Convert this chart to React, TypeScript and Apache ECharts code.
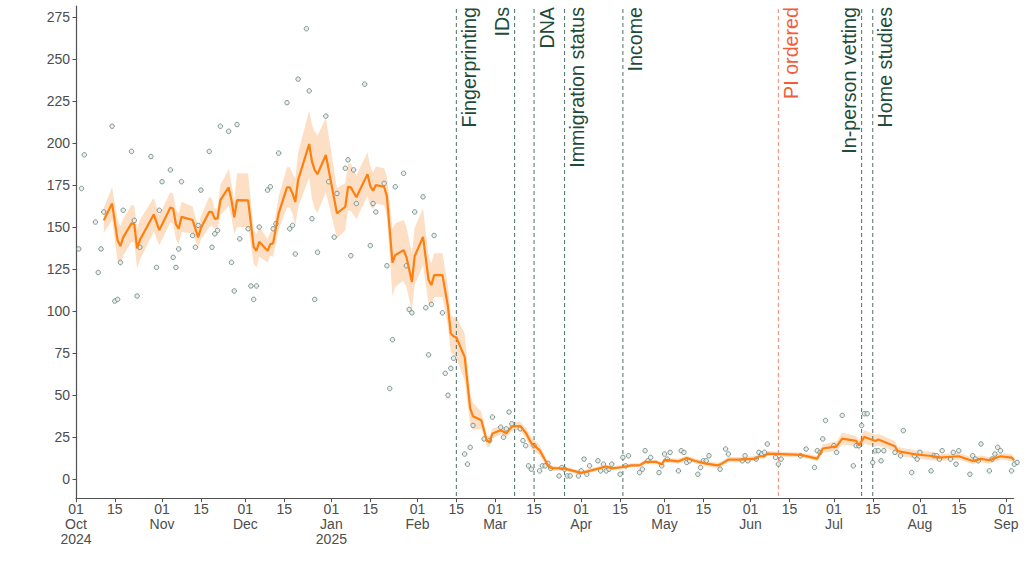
import React, { useEffect, useRef } from "react";
import * as echarts from "echarts";

// ---------- data ----------
const pointDates: string[] = [
  "2024-10-02","2024-10-03","2024-10-04","2024-10-08","2024-10-09","2024-10-10","2024-10-11","2024-10-14","2024-10-15","2024-10-16","2024-10-17","2024-10-18","2024-10-21","2024-10-22","2024-10-23","2024-10-24","2024-10-28","2024-10-30","2024-10-31",
  "2024-11-01","2024-11-04","2024-11-05","2024-11-06","2024-11-07","2024-11-08","2024-11-12","2024-11-13","2024-11-14","2024-11-15","2024-11-18","2024-11-19","2024-11-20","2024-11-21","2024-11-22","2024-11-25","2024-11-26","2024-11-27","2024-11-28","2024-11-29",
  "2024-12-02","2024-12-03","2024-12-04","2024-12-05","2024-12-06","2024-12-09","2024-12-10","2024-12-11","2024-12-12","2024-12-13","2024-12-16","2024-12-17","2024-12-18","2024-12-19","2024-12-20","2024-12-23","2024-12-24","2024-12-25","2024-12-26","2024-12-27","2024-12-30","2024-12-31",
  "2025-01-02","2025-01-03","2025-01-06","2025-01-07","2025-01-08","2025-01-09","2025-01-10","2025-01-13","2025-01-15","2025-01-16","2025-01-17","2025-01-20","2025-01-21","2025-01-22","2025-01-23","2025-01-24","2025-01-27","2025-01-28","2025-01-29","2025-01-30","2025-01-31",
  "2025-02-03","2025-02-04","2025-02-05","2025-02-06","2025-02-07","2025-02-10","2025-02-11","2025-02-12","2025-02-13","2025-02-14","2025-02-18","2025-02-19","2025-02-20","2025-02-21","2025-02-25","2025-02-27","2025-02-28",
  "2025-03-03","2025-03-04","2025-03-05","2025-03-06","2025-03-07","2025-03-10","2025-03-11","2025-03-12","2025-03-13","2025-03-14","2025-03-15","2025-03-17","2025-03-18","2025-03-19","2025-03-20","2025-03-21","2025-03-24","2025-03-25","2025-03-26","2025-03-27","2025-03-28","2025-03-31",
  "2025-04-01","2025-04-02","2025-04-03","2025-04-04","2025-04-07","2025-04-08","2025-04-09","2025-04-10","2025-04-11","2025-04-12","2025-04-15","2025-04-16","2025-04-17","2025-04-18","2025-04-22","2025-04-23","2025-04-24","2025-04-25","2025-04-26","2025-04-29","2025-04-30",
  "2025-05-01","2025-05-02","2025-05-03","2025-05-06","2025-05-07","2025-05-08","2025-05-09","2025-05-10","2025-05-13","2025-05-14","2025-05-15","2025-05-16","2025-05-17","2025-05-21","2025-05-23","2025-05-24","2025-05-29","2025-05-30","2025-05-31",
  "2025-06-03","2025-06-04","2025-06-05","2025-06-06","2025-06-07","2025-06-10","2025-06-11","2025-06-12","2025-06-19","2025-06-21","2025-06-24","2025-06-25","2025-06-26","2025-06-27","2025-06-28",
  "2025-07-01","2025-07-02","2025-07-04","2025-07-08","2025-07-09","2025-07-10","2025-07-11","2025-07-12","2025-07-13","2025-07-15","2025-07-16","2025-07-17","2025-07-18","2025-07-19","2025-07-23","2025-07-25","2025-07-26","2025-07-29","2025-07-30","2025-07-31",
  "2025-08-01","2025-08-05","2025-08-06","2025-08-07","2025-08-08","2025-08-09","2025-08-12","2025-08-13","2025-08-14","2025-08-15","2025-08-19","2025-08-20","2025-08-21","2025-08-22","2025-08-23","2025-08-26","2025-08-27","2025-08-28","2025-08-29","2025-08-30",
  "2025-09-03","2025-09-04","2025-09-05",
];
const pointValues: number[] = [
  137,173,193,153,123,137,159,210,106,107,129,160,195,154,109,138,192,126,160,
  177,184,132,126,137,177,145,138,151,172,195,138,146,148,210,207,129,112,211,143,
  149,115,107,115,150,172,174,149,152,194,224,149,151,134,238,268,231,155,107,135,216,177,
  144,170,185,190,133,184,164,235,139,164,159,176,127,54,83,174,182,127,101,99,159,
  168,102,74,104,145,99,63,50,66,72,15,9,19,32,24,23,37,
  31,25,30,40,33,30,23,20,8,6,20,5,8,8,9.5,6.5,2,7,6,2,2,2,
  5,12,3,8,11,5,9,5,6,9,3,13,8,14,4,6,17,11,13,4,8,
  15,12,16,5,17,16,10,11,3,7,11,11,14,6,18,15,11,14,11,
  12,16,15,16,21,13,9,12,14,18,7,17,16,24,35,
  20,16,38,8,20,20,32,39,39,10,17,17,11,17,16,14,29,4,14,12,
  16,5,14,14,12,17,12,16,9,17,3,14,12,11,21,5,12,15,19,17,
  5,9,10,
];

const lineDates: string[] = [
  "2024-10-11","2024-10-14","2024-10-16","2024-10-17","2024-10-18","2024-10-21","2024-10-22","2024-10-23","2024-10-24","2024-10-29","2024-10-31",
  "2024-11-04","2024-11-05","2024-11-06","2024-11-07","2024-11-08","2024-11-12","2024-11-14","2024-11-15","2024-11-18","2024-11-19","2024-11-20","2024-11-21","2024-11-22","2024-11-25","2024-11-26","2024-11-27","2024-11-28",
  "2024-12-02","2024-12-04","2024-12-05","2024-12-06","2024-12-09","2024-12-10","2024-12-11","2024-12-13","2024-12-16","2024-12-17","2024-12-18","2024-12-19","2024-12-20","2024-12-24","2024-12-25","2024-12-26","2024-12-27","2024-12-30",
  "2025-01-03","2025-01-06","2025-01-07","2025-01-08","2025-01-10","2025-01-14","2025-01-15","2025-01-16","2025-01-17","2025-01-20","2025-01-21","2025-01-23","2025-01-24","2025-01-27","2025-01-28","2025-01-30","2025-01-31",
  "2025-02-03","2025-02-05","2025-02-06","2025-02-07","2025-02-10","2025-02-12","2025-02-13","2025-02-14","2025-02-15","2025-02-18","2025-02-20","2025-02-21","2025-02-24","2025-02-26","2025-02-27","2025-02-28",
  "2025-03-03","2025-03-05","2025-03-07","2025-03-10","2025-03-12","2025-03-14","2025-03-17","2025-03-20","2025-03-21","2025-03-26",
  "2025-04-01","2025-04-04","2025-04-10","2025-04-12","2025-04-16","2025-04-19","2025-04-22","2025-04-24","2025-04-28","2025-04-30",
  "2025-05-01","2025-05-06","2025-05-09","2025-05-12","2025-05-16","2025-05-20","2025-05-21","2025-05-24","2025-05-28",
  "2025-06-03","2025-06-04","2025-06-06","2025-06-07","2025-06-19","2025-06-25","2025-06-27",
  "2025-07-02","2025-07-04","2025-07-09","2025-07-10","2025-07-12","2025-07-16","2025-07-17","2025-07-23","2025-07-24","2025-07-30",
  "2025-08-06","2025-08-08","2025-08-15","2025-08-20","2025-08-23","2025-08-26","2025-08-30",
  "2025-09-03","2025-09-04",
];
const lineValues: number[] = [
  154,164,142,138.7,143.9,152.2,151.8,137.3,142.3,157.5,148.2,
  161.7,160.9,151.6,149,156.1,154.2,143.9,149.4,159.1,158.9,154.9,155.2,166,173.6,166,155.8,166,
  165.9,138.3,135.9,141.3,135.9,139.9,140.3,158.2,173.6,173.6,170,165,178,199.4,188.9,183.9,181.5,192.9,
  158.2,162.1,174,173.6,167.7,181.5,174.4,171.6,175,174,168,128.8,133.3,136.3,132.3,117.4,132.7,
  144.2,118.5,115.5,121.4,121.4,102.6,86.7,85.1,84.3,72.8,42,37.5,35.1,22.8,22.4,27.2,
  29.2,27.4,31.3,31.7,27.7,21.5,17.3,8.3,6.7,6.3,
  3.8,5,7.6,6.5,7.3,8.3,8.3,10.3,10.3,8.9,
  11.5,10.7,12.7,10.9,9.3,8.3,8.7,11.7,11.7,
  12.3,13.7,13.7,15.3,14.5,12.3,18.3,
  19.6,24.2,22.8,20.2,25.2,22.8,23.6,19.6,16.7,14.9,
  13.7,12.9,13.7,10.9,12.1,11.3,13.7,
  12.9,11.3,
];
// half height of the shaded ribbon around the line, read per line point
const ribbonHalfWidth: number[] = [
  7.5,10,12,12,11,11,11,12,12,10,9,
  9,9,9,9,9,8,6,7,9,8,6,6,9,11,10,10,16,
  16,10,10,9,7,7,8,10,12,12,12,14,16,20,22,23,23,22,
  15,14,14,14,13,13,12,11,11,11,12,20,19,18,18,17,17,
  17,14,13,13,13,12,11,11,12,14,9,8,5,3.5,3,3,
  2.5,2.5,2.5,2.5,3,3.5,3,2,1.5,1.2,
  1.2,1.2,1.2,1.2,1.2,1.2,1.2,1.3,1.3,1.3,
  1.5,1.5,1.5,1.5,1.5,1.5,1.5,1.5,1.5,
  1.5,1.5,1.5,1.5,1.5,1.5,2.5,
  3,3.5,3,3,4,3.5,3.5,3,2.5,2.5,
  2.5,2,2,2,2,2,2,
  2,2,
];

const eventNames: string[] = ["Fingerprinting","IDs","DNA","Immigration status","Income","PI ordered","In-person vetting","Home studies"];
const eventDates: string[] = ["2025-02-15","2025-03-08","2025-03-15","2025-03-26","2025-04-16","2025-06-11","2025-07-11","2025-07-15"];

const xTickDates: string[] = ["2024-10-01","2024-10-15","2024-11-01","2024-11-15","2024-12-01","2024-12-15","2025-01-01","2025-01-15","2025-02-01","2025-02-15","2025-03-01","2025-03-15","2025-04-01","2025-04-15","2025-05-01","2025-05-15","2025-06-01","2025-06-15","2025-07-01","2025-07-15","2025-08-01","2025-08-15","2025-09-01"];
const xTickLabels: string[] = ["01\nOct\n2024","15","01\nNov","15","01\nDec","15","01\nJan\n2025","15","01\nFeb","15","01\nMar","15","01\nApr","15","01\nMay","15","01\nJun","15","01\nJul","15","01\nAug","15","01\nSep"];
const yTicks: number[] = [0,25,50,75,100,125,150,175,200,225,250,275];

// ---------- helpers / styles ----------
const DAY = 86400000;
const ts = (s: string) => Date.UTC(+s.slice(0, 4), +s.slice(5, 7) - 1, +s.slice(8, 10));
const X_MIN = ts("2024-10-01");
const X_MAX = ts("2025-09-03") + 0.7 * DAY;
const Y_MIN = -11.55;
const Y_MAX = 281.5;
const LEFT_LABELS = new Set(["IDs", "In-person vetting"]);
const HIGHLIGHT = new Set(["PI ordered"]);
const FONT = '"Liberation Sans", Arial, Helvetica, sans-serif';
const AXIS_COLOR = "#505050";
const TEXT_COLOR = "#4D4D4D";

export default function App() {
  const ref = useRef<HTMLDivElement | null>(null);

  useEffect(() => {
    document.body.style.margin = "0";
    if (!ref.current) return;
    const chart = echarts.init(ref.current, undefined, { renderer: "svg" });

    const xTickTs = xTickDates.map(ts);
    const lineTs = lineDates.map(ts);

    const option: any = {
      animation: false,
      grid: { left: 76, right: 10.5, top: 6, bottom: 77.3, containLabel: false, outerBoundsMode: "none" },
      xAxis: {
        type: "value",
        min: X_MIN,
        max: X_MAX,
        axisLine: { show: true, onZero: false, lineStyle: { color: AXIS_COLOR, width: 1.2 } },
        axisTick: { show: true, length: 3.5, customValues: xTickTs, lineStyle: { color: AXIS_COLOR, width: 1 } },
        axisLabel: {
          customValues: xTickTs,
          formatter: (v: number) => {
            const i = xTickTs.indexOf(v);
            return i >= 0 ? xTickLabels[i] : "";
          },
          color: TEXT_COLOR,
          fontSize: 14,
          fontFamily: FONT,
          lineHeight: 15,
          margin: 3,
        },
        splitLine: { show: false },
      },
      yAxis: {
        type: "value",
        min: Y_MIN,
        max: Y_MAX,
        axisLine: { show: true, onZero: false, lineStyle: { color: AXIS_COLOR, width: 1.2 } },
        axisTick: { show: true, length: 3.5, customValues: yTicks, lineStyle: { color: AXIS_COLOR, width: 1 } },
        axisLabel: { customValues: yTicks, color: TEXT_COLOR, fontSize: 14, fontFamily: FONT, margin: 6 },
        splitLine: { show: false },
      },
      series: [
        {
          type: "custom",
          name: "ribbon",
          z: 1,
          silent: true,
          data: [[lineTs[0], lineValues[0]]],
          renderItem: (params: any, api: any) => {
            if (params.dataIndex !== 0) return null;
            const upper = lineTs.map((t, i) => api.coord([t, lineValues[i] + ribbonHalfWidth[i]]));
            const lower = lineTs.map((t, i) => api.coord([t, lineValues[i] - ribbonHalfWidth[i]])).reverse();
            return {
              type: "polygon",
              shape: { points: upper.concat(lower) },
              style: { fill: "#FDDFC6", stroke: null },
            };
          },
        },
        {
          type: "custom",
          name: "events",
          z: 2,
          silent: true,
          data: eventDates.map((d, i) => [ts(d), i]),
          renderItem: (params: any, api: any) => {
            const x = api.value(0);
            const i = api.value(1);
            const name = eventNames[i];
            const top = api.coord([x, Y_MAX]);
            const bottom = api.coord([x, Y_MIN]);
            const hi = HIGHLIGHT.has(name);
            const left = LEFT_LABELS.has(name);
            return {
              type: "group",
              children: [
                {
                  type: "line",
                  shape: { x1: top[0], y1: top[1] + 3, x2: bottom[0], y2: bottom[1] },
                  style: { stroke: hi ? "#F2896F" : "#4C7163", lineWidth: 1, lineDash: [4, 3] },
                },
                {
                  type: "text",
                  x: top[0] + (left ? -12.5 : 12.5),
                  y: top[1] + 1,
                  rotation: Math.PI / 2,
                  style: {
                    text: name,
                    fill: hi ? "#F25C3A" : "#1E4B3A",
                    fontSize: 19.7,
                    fontFamily: FONT,
                    align: "right",
                    verticalAlign: "middle",
                  },
                },
              ],
            };
          },
        },
        {
          type: "scatter",
          name: "daily",
          z: 3,
          clip: false,
          symbol: "circle",
          symbolSize: 4.5,
          itemStyle: { color: "#E4EBE8", borderColor: "#56736B", borderWidth: 0.9 },
          data: pointDates.map((d, i) => [ts(d), pointValues[i]]),
        },
        {
          type: "line",
          name: "average",
          z: 4,
          clip: false,
          showSymbol: false,
          symbol: "none",
          lineStyle: { color: "#FF7F0E", width: 2.2 },
          data: lineDates.map((d, i) => [ts(d), lineValues[i]]),
        },
      ],
    };

    chart.setOption(option);
    return () => chart.dispose();
  }, []);

  return <div ref={ref} style={{ width: 1024, height: 576 }} />;
}
